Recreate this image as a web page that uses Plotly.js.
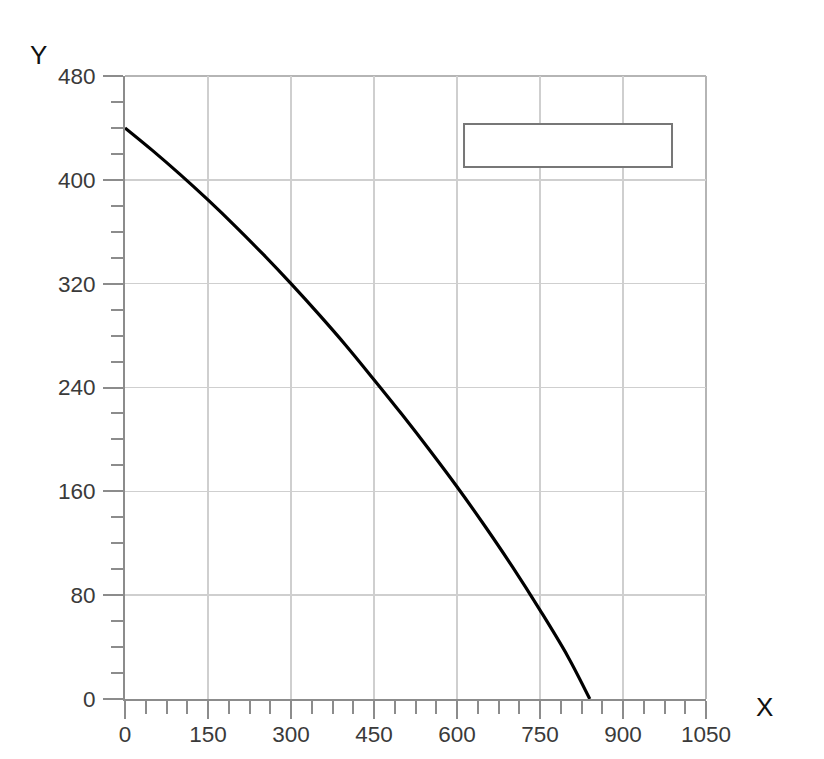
<!DOCTYPE html>
<html>
<head>
<meta charset="utf-8">
<script src="https://cdn.plot.ly/plotly-3.0.1.min.js"></script>
<style>
html,body{margin:0;padding:0;background:#fff;}
#chart{width:824px;height:759px;}
</style>
</head>
<body>
<div id="chart"></div>
<script>
// Data
const xValues = [0, 50, 100, 150, 200, 250, 300, 350, 400, 450, 500, 550, 600, 650, 700, 750, 800, 840];
const yValues = [440, 422.5, 404, 384.5, 364, 342.5, 320, 296.5, 272, 246, 219.5, 192, 163.5, 133.5, 102, 68.5, 33, 0];
const xTicks = [0, 150, 300, 450, 600, 750, 900, 1050];
const yTicks = [0, 80, 160, 240, 320, 400, 480];

const tickFont = {family: 'Liberation Sans, Arial, sans-serif', size: 22.5, color: '#3a3a3a'};
const gridColor = '#cfcfcf';
const axisColor = '#8c8c8c';

const trace = {
  x: xValues,
  y: yValues,
  type: 'scatter',
  mode: 'lines',
  line: {color: '#000', width: 3.2, shape: 'spline', smoothing: 1},
  showlegend: false,
  hoverinfo: 'skip'
};

const layout = {
  width: 824,
  height: 759,
  margin: {l: 125, r: 118, t: 76, b: 60},
  paper_bgcolor: '#fff',
  plot_bgcolor: '#fff',
  showlegend: false,
  xaxis: {
    range: [0, 1050],
    tickmode: 'array',
    tickvals: xTicks,
    ticktext: xTicks.map(String),
    ticks: 'outside',
    ticklen: 18,
    tickwidth: 2,
    tickcolor: axisColor,
    ticklabelstandoff: -4,
    showline: true,
    linecolor: axisColor,
    linewidth: 2,
    showgrid: true,
    gridcolor: gridColor,
    gridwidth: 1.5,
    zeroline: false,
    tickfont: tickFont,
    minor: {dtick: 37.5, tick0: 0, ticks: 'outside', ticklen: 13, tickwidth: 2, tickcolor: axisColor, showgrid: false},
    fixedrange: true
  },
  yaxis: {
    range: [0, 480],
    tickmode: 'array',
    tickvals: yTicks,
    ticktext: yTicks.map(String),
    ticks: 'outside',
    ticklen: 20,
    tickwidth: 2,
    tickcolor: axisColor,
    ticklabelstandoff: 3,
    showline: true,
    linecolor: axisColor,
    linewidth: 2,
    showgrid: true,
    gridcolor: gridColor,
    gridwidth: 1.5,
    zeroline: false,
    tickfont: tickFont,
    minor: {dtick: 20, tick0: 0, ticks: 'outside', ticklen: 12, tickwidth: 2, tickcolor: axisColor, showgrid: false},
    fixedrange: true
  },
  shapes: [
    {type: 'line', xref: 'paper', yref: 'paper', x0: 1, x1: 1, y0: 0, y1: 1, line: {color: '#b5b5b5', width: 2}, layer: 'below'},
    {type: 'line', xref: 'paper', yref: 'paper', x0: 0, x1: 1, y0: 1, y1: 1, line: {color: '#b5b5b5', width: 2}, layer: 'below'},
    {type: 'rect', xref: 'paper', yref: 'paper', x0: 0.5835, x1: 0.9415, y0: 0.854, y1: 0.923,
     fillcolor: '#fff', line: {color: '#777', width: 2}, layer: 'above'}
  ],
  annotations: [
    {text: 'Y', xref: 'paper', yref: 'paper', x: -0.1497, y: 1.033, showarrow: false,
     font: {family: 'Liberation Sans, Arial, sans-serif', size: 26, color: '#111'}, xanchor: 'center', yanchor: 'middle'},
    {text: 'X', xref: 'paper', yref: 'paper', x: 1.1015, y: -0.0128, showarrow: false,
     font: {family: 'Liberation Sans, Arial, sans-serif', size: 26, color: '#111'}, xanchor: 'center', yanchor: 'middle'}
  ]
};

Plotly.newPlot('chart', [trace], layout, {displayModeBar: false, staticPlot: true});
</script>
</body>
</html>
